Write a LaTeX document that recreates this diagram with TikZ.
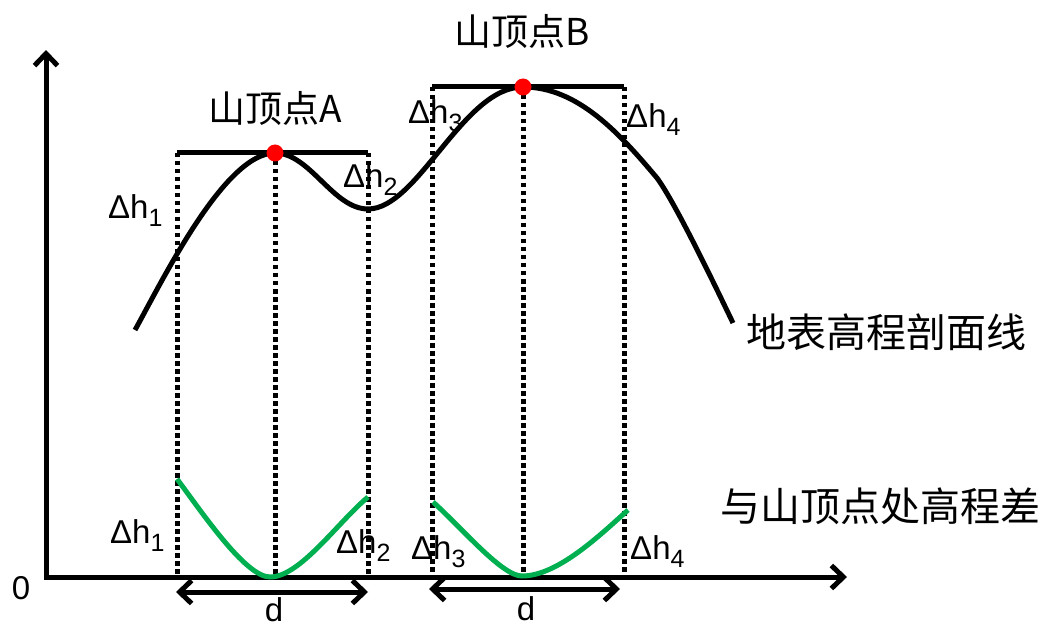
\documentclass[tikz,border=0pt]{standalone}
\usepackage{fontspec}
\setmainfont{Liberation Sans}
\newfontfamily\cjk{Noto Sans CJK SC}
\usetikzlibrary{arrows.meta}
\definecolor{curvegreen}{RGB}{0,176,80}
\newcommand\dhlab[1]{Δh\raisebox{-8pt}{\fontsize{25}{25}\selectfont #1}}
\tikzset{
  barb/.tip={Straight Barb[length=12pt,width=23pt]},
  axis/.style={line width=5pt, line join=miter, barb-barb},
  dimarrow/.style={line width=5pt, barb-barb},
  dotline/.style={line width=5pt, dash pattern=on 4.5pt off 3.5pt},
  levelline/.style={line width=5pt},
  profile/.style={line width=5pt},
  diffcurve/.style={line width=5pt, draw=curvegreen},
  peakdot/.style={circle, fill=red, inner sep=0pt, minimum size=17pt},
  lab/.style={inner sep=0pt, font=\fontsize{33}{38}\selectfont},
  cjklab/.style={inner sep=0pt, font=\cjk\fontsize{37}{40}\selectfont},
  cjkbig/.style={inner sep=0pt, font=\cjk\fontsize{40}{44}\selectfont},
}
\begin{document}
\begin{tikzpicture}[x=1pt,y=-1pt]
\useasboundingbox (0,0) rectangle (1041,628);

% axes
\coordinate (O) at (46,577);
\coordinate (ytip) at (46,50);
\coordinate (xtip) at (847,577);
\draw[axis] (ytip) -- (O) -- (xtip);

% dotted verticals
\coordinate (t1) at (177,153); \coordinate (b1) at (177,577);
\coordinate (t2) at (275,153); \coordinate (b2) at (275,577);
\coordinate (t3) at (368,153); \coordinate (b3) at (368,577);
\coordinate (t4) at (432,87);  \coordinate (b4) at (432,577);
\coordinate (t5) at (523,87);  \coordinate (b5) at (523,577);
\coordinate (t6) at (624,87);  \coordinate (b6) at (624,577);
\foreach \i in {1,...,6} \draw[dotline] (t\i) -- (b\i);

% level lines
\draw[levelline] (t1) -- (t3);
\draw[levelline] (t4) -- (t6);

% profile curve
\coordinate (s0) at (135,330);
\coordinate (pA) at (275,153);
\coordinate (vA) at (368,209);
\coordinate (pB) at (523,87);
\coordinate (k0) at (657,178);
\coordinate (e0) at (733,323);
\draw[profile] (s0) .. controls (164,277.5) and (225,153) .. (pA)
  .. controls (310,153) and (333,209) .. (vA)
  .. controls (418,209) and (463,87) .. (pB)
  .. controls (578,87) and (620,134) .. (k0)
  .. controls (674,201) and (710,275) .. (e0);

% difference curves
\coordinate (g1a) at (177,479);
\coordinate (g1m) at (270,577);
\coordinate (g1b) at (368,497);
\coordinate (g2a) at (433,502);
\coordinate (g2m) at (522,576);
\coordinate (g2b) at (628,510);
\draw[diffcurve] (g1a) .. controls (200.5,510) and (245,577) .. (g1m)
  .. controls (300,577) and (337.4,522.7) .. (g1b);
\draw[diffcurve] (g2a) .. controls (462.7,528.8) and (502,576) .. (g2m)
  .. controls (557,576) and (598.3,536.8) .. (g2b);

% peaks
\node[peakdot] (dotA) at (pA) {};
\node[peakdot] (dotB) at (pB) {};

% dimension arrows
\coordinate (d1l) at (176,592); \coordinate (d1r) at (368,592);
\coordinate (d2l) at (429,589); \coordinate (d2r) at (620,589);
\draw[dimarrow] (d1l) -- (d1r);
\draw[dimarrow] (d2l) -- (d2r);

% labels
\node[cjklab, anchor=base] (labA) at (275,123) {山顶点A};
\node[cjklab, anchor=base] (labB) at (522,46) {山顶点B};
\node[cjkbig, anchor=base] (labProfile) at (886,347) {地表高程剖面线};
\node[cjkbig, anchor=base] (labDiff) at (880,521) {与山顶点处高程差};

\node[lab, anchor=base west] (u1) at (108,219) {\dhlab{1}};
\node[lab, anchor=base west] (u2) at (343,188) {\dhlab{2}};
\node[lab, anchor=base west] (u3) at (408,124) {\dhlab{3}};
\node[lab, anchor=base west] (u4) at (626,128) {\dhlab{4}};
\node[lab, anchor=base west] (l1) at (110,543) {\dhlab{1}};
\node[lab, anchor=base west] (l2) at (336,553) {\dhlab{2}};
\node[lab, anchor=base west] (l3) at (411,559) {\dhlab{3}};
\node[lab, anchor=base west] (l4) at (630,559) {\dhlab{4}};

\node[lab, anchor=base] (zero) at (21,599) {0};
\node[lab, anchor=base] (dA) at (274,621) {d};
\node[lab, anchor=base] (dB) at (526,620) {d};
\end{tikzpicture}
\end{document}
